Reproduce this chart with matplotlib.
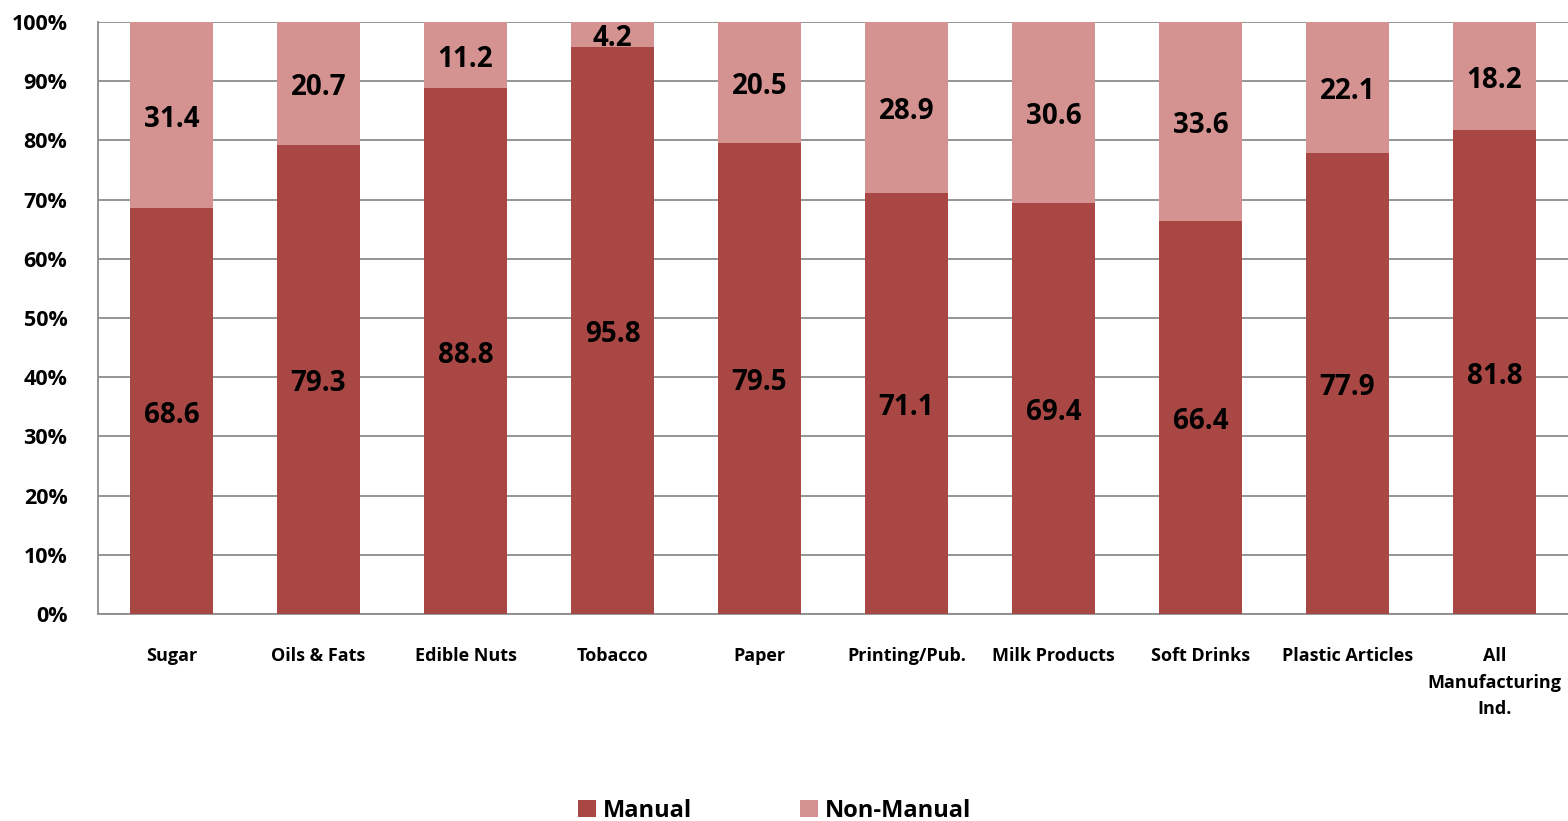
import numpy as np
import matplotlib.pyplot as plt
from matplotlib.ticker import PercentFormatter

# --- data ---
categories = ['Sugar', 'Oils & Fats', 'Edible Nuts', 'Tobacco', 'Paper',
              'Printing/Pub.', 'Milk Products', 'Soft Drinks',
              'Plastic Articles', 'All\nManufacturing\nInd.']
manual = [68.6, 79.3, 88.8, 95.8, 79.5, 71.1, 69.4, 66.4, 77.9, 81.8]
non_manual = [31.4, 20.7, 11.2, 4.2, 20.5, 28.9, 30.6, 33.6, 22.1, 18.2]

plt.rcParams['font.family'] = ['Open Sans', 'DejaVu Sans']
plt.rcParams['font.weight'] = 'bold'

fig = plt.figure(figsize=(15.68, 8.21), dpi=100)
ax = fig.add_axes([0.0625, 0.252, 0.9375, 0.7212])

x = np.arange(len(categories))
w = 0.565
b1 = ax.bar(x, manual, w, color='#A84744', label='Manual', zorder=3)
b2 = ax.bar(x, non_manual, w, bottom=manual, color='#D49391',
            label='Non-Manual', zorder=3)

# labels in the middle of each segment (nudged down a touch)
for xi, m, n in zip(x, manual, non_manual):
    ax.annotate(f'{m:.1f}', (xi, m / 2), xytext=(0, -3),
                textcoords='offset points', ha='center', va='center',
                fontsize=20, fontweight='bold', zorder=4)
    ax.annotate(f'{n:.1f}', (xi, m + n / 2), xytext=(0, -3),
                textcoords='offset points', ha='center', va='center',
                fontsize=20, fontweight='bold', zorder=4)

ax.set_xlim(-0.5, len(categories) - 0.5)
ax.set_ylim(0, 100)
ax.set_yticks(np.arange(0, 101, 10))
ax.yaxis.set_major_formatter(PercentFormatter(decimals=0))
ax.grid(axis='y', color='#8c8c8c', linewidth=1.3, zorder=0)
ax.set_xticks(x)
ax.set_xticklabels(categories, fontsize=13, fontweight='bold',
                   linespacing=1.6, va='top')
ax.tick_params(axis='x', length=0, pad=24)
ax.tick_params(axis='y', length=0, pad=22, labelsize=15.5)
for lab in ax.get_yticklabels():
    lab.set_fontweight('bold')

for s in ['top', 'right']:
    ax.spines[s].set_visible(False)
for s in ['left', 'bottom']:
    ax.spines[s].set_color('#8c8c8c')
    ax.spines[s].set_linewidth(1.3)

leg = fig.legend(handles=[b1, b2], loc='lower center', ncol=2,
                 bbox_to_anchor=(0.494, -0.028), frameon=False,
                 prop={'size': 17, 'weight': 'bold'},
                 handlelength=0.75, handleheight=0.75,
                 handletextpad=0.3, columnspacing=4.6)

fig.savefig('out.png', dpi=100)
